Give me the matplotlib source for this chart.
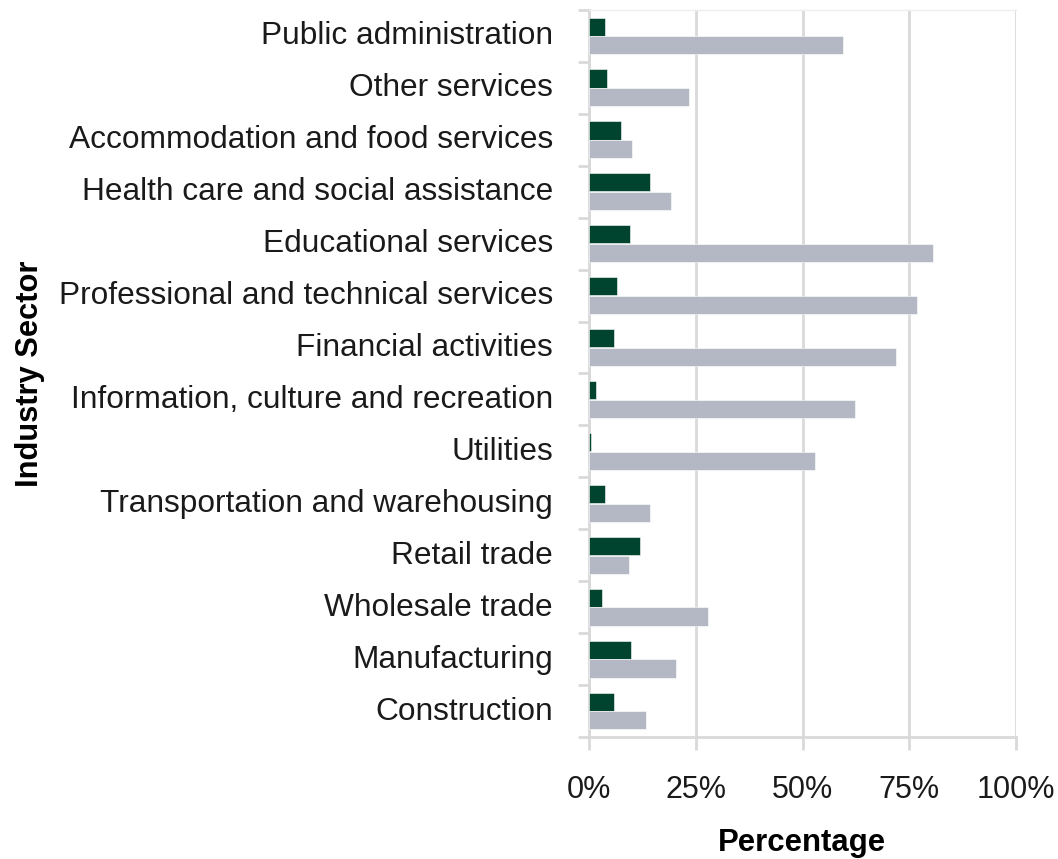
import matplotlib
matplotlib.use('Agg')
import matplotlib.pyplot as plt
import matplotlib.transforms as mtransforms
import numpy as np

# Industry sectors, top to bottom as shown
sectors = ['Public administration', 'Other services', 'Accommodation and food services',
           'Health care and social assistance', 'Educational services',
           'Professional and technical services', 'Financial activities',
           'Information, culture and recreation', 'Utilities',
           'Transportation and warehousing', 'Retail trade', 'Wholesale trade',
           'Manufacturing', 'Construction']
green_vals = [3.7, 4.1, 7.6, 14.2, 9.7, 6.5, 5.9, 1.6, 0.5, 3.7, 11.9, 3.1, 9.8, 5.9]
gray_vals = [59.6, 23.5, 10.0, 19.3, 80.5, 76.8, 71.8, 62.2, 53.0, 14.3, 9.4, 27.8, 20.3, 13.3]
xticks = [0, 25, 50, 75, 100]
xtick_labels = ['0%', '25%', '50%', '75%', '100%']

plt.rcParams['font.family'] = ['Liberation Sans', 'DejaVu Sans']

fig = plt.figure(figsize=(10.58, 8.59), dpi=100)
ax = fig.add_axes([589 / 1058, 122 / 859, 427 / 1058, 727 / 859])

y = np.arange(len(sectors))
h = 0.35
ax.barh(y - 0.18, green_vals, height=h, color='#00432f', edgecolor='white', linewidth=0.4, zorder=3)
ax.barh(y + 0.18, gray_vals, height=h, color='#b3b8c4', edgecolor='white', linewidth=0.4, zorder=3)

ax.set_ylim(len(sectors) - 0.5, -0.5)
ax.set_xlim(0, 100)

ax.set_yticks(y)
ax.set_yticklabels(sectors, fontsize=22.8, color='#1a1a1a')
ax.tick_params(axis='y', which='major', length=0, pad=26)
ax.set_yticks(np.arange(len(sectors) + 1) - 0.5, minor=True)
ax.tick_params(axis='y', which='minor', length=8, width=2, color='#d9d9d9')

# nudge the sector labels up a little
shift = mtransforms.ScaledTranslation(0, 0.03, fig.dpi_scale_trans)
for lbl in ax.get_yticklabels():
    lbl.set_transform(lbl.get_transform() + shift)

ax.set_xticks(xticks)
ax.set_xticklabels(xtick_labels, fontsize=22, color='#1a1a1a')
ax.tick_params(axis='x', length=9, width=2, color='#d9d9d9', pad=18.5)

ax.grid(axis='x', color='#d9d9d9', linewidth=2, zorder=0)

ax.spines['right'].set_visible(False)
ax.spines['top'].set_color('#eeeeee')
ax.spines['top'].set_linewidth(1)
ax.spines['left'].set_color('#d9d9d9')
ax.spines['left'].set_linewidth(2)
ax.spines['bottom'].set_color('#d9d9d9')
ax.spines['bottom'].set_linewidth(2)

fig.text(802 / 1058, 1 - 843 / 859, 'Percentage', fontsize=22.4, fontweight='bold',
         ha='center', va='center')
fig.text(30 / 1058, 1 - 374 / 859, 'Industry Sector', fontsize=22.2, fontweight='bold',
         rotation=90, ha='center', va='center')

fig.savefig('out.png', dpi=100)
